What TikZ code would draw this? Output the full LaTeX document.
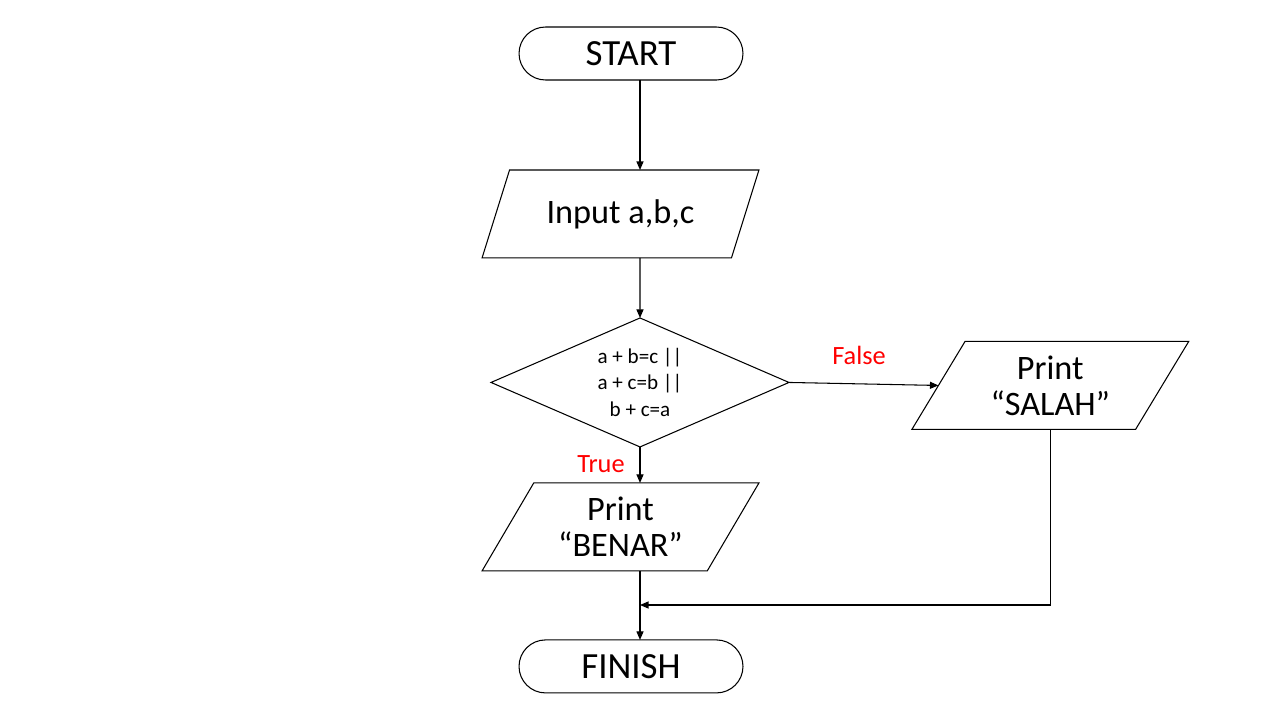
\documentclass[tikz,border=0pt]{standalone}
\usepackage{fontspec}
\setmainfont{Carlito}
\usetikzlibrary{positioning,shapes.geometric,arrows.meta}

\begin{document}
\begin{tikzpicture}
[x=0.02cm,y=-0.02cm,
  box/.style={draw,line width=0.6pt,align=center,outer sep=0pt,
    font=\fontsize{19.5}{20.4}\selectfont},
  term/.style={box,rectangle,rounded corners=5.3mm,
    minimum width=4.48cm,minimum height=1.06cm,
    font=\fontsize{21}{24}\selectfont},
  io/.style={box,trapezium,trapezium left angle=58,
    trapezium right angle=122,trapezium stretches=true,
    minimum width=5.54cm,minimum height=1.76cm,inner sep=0pt},
  cond/.style={box,diamond,shape aspect=2.31,inner sep=0pt,
    minimum width=5.96cm,minimum height=2.58cm,
    font=\fontsize{12}{15.3}\selectfont},
  lbl/.style={text=red,font=\fontsize{15}{17}\selectfont},
  arr/.style={line width=0.6pt,-{Triangle[length=1.7mm,width=1.4mm]}}]
\useasboundingbox (0,0) rectangle (1280,720);
\coordinate (spine) at (640,0);
\node[term](start) at (631,53.5){START};
\node[io, below=1.8cm of start, xshift=-0.21cm](inp){Input a,b,c};
\node[cond, below=1.2cm of inp, xshift=0.39cm](dec){a + b=c ||\\a + c=b
  ||\\b + c=a};
\node[io, below=0.72cm of dec, xshift=-0.39cm](benar){Print\\“BENAR”};
\node[term, below=1.38cm of benar, xshift=0.21cm](finish){FINISH};
\node[io, right=2.99cm of dec, yshift=-0.06cm](salah){Print\\“SALAH”};
\node[lbl](lfalse) at (859,355){False};
\node[lbl](ltrue) at (601,464){True};
\coordinate (join) at (640,605);
\draw[arr] (start.south -| spine) -- (inp.north -| spine);
\draw[arr] (inp.south -| spine) -- (dec.north);
\draw[arr] (dec.east) -- (salah.west);
\draw[arr] (dec.south) -- (benar.north -| dec.south);
\draw[arr] (benar.south -| spine) -- (finish.north -| spine);
\draw[arr] (salah.south) |- (join);
\end{tikzpicture}
\end{document}
